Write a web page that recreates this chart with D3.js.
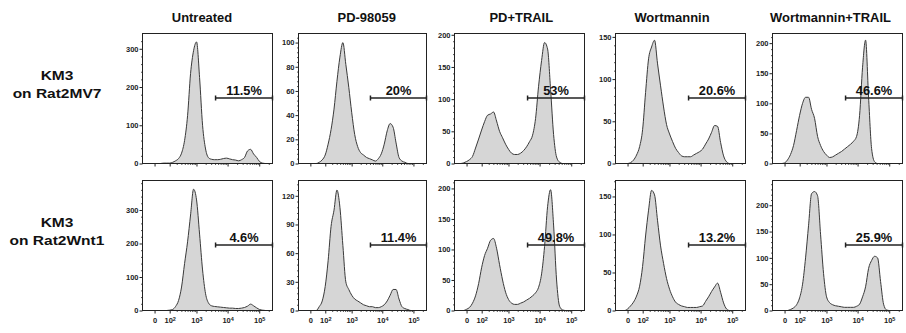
<!DOCTYPE html>
<html>
<head>
<meta charset="utf-8">
<script src="https://cdn.jsdelivr.net/npm/d3@7"></script>
<style>
  body { margin: 0; background: #fff; }
  svg { display: block; font-family: "Liberation Sans", Arial, sans-serif; }
</style>
</head>
<body>
<script>
const treatments = ["Untreated", "PD-98059", "PD+TRAIL", "Wortmannin", "Wortmannin+TRAIL"];
const cellLines = [["KM3", "on Rat2MV7"], ["KM3", "on Rat2Wnt1"]];

// histogram bin centres (fluorescence, biexponential display)
const channels = [-70, -46, -27, -12, 0, 12, 27, 46, 70, 99, 135, 180, 236, 305, 392, 500, 633, 800,
  1006, 1264, 1584, 1981, 2476, 3091, 3856, 4807, 5990, 7460, 9290, 11565, 14390, 17905, 22285,
  27720, 34460, 42900, 53350, 66300, 82500, 102500, 127550, 158650, 197200, 245400];

// cell counts per bin, KM3 on Rat2MV7
const mv7Untreated = [0, 0, 0, 0, 0, 0, 0, 1, 1, 1, 3, 7, 13, 27, 60, 125, 235, 295, 318, 225,
  100, 38, 15, 11, 10, 10, 11, 13, 14, 12, 10, 9, 7, 10, 16, 33, 37, 25, 16, 5, 1, 0, 0, 0];
const mv7Pd = [0, 0, 0, 0, 0, 0, 0, 1, 3, 7, 16, 28, 45, 68, 88, 100, 82, 63, 42, 24,
  14, 9, 7, 5, 4, 3, 2, 4, 8, 16, 27, 33, 30, 17, 5, 2, 1, 0, 0, 0, 0, 0, 0, 0];
const mv7PdTrail = [0, 0, 0, 1, 3, 6, 11, 24, 38, 52, 65, 75, 77, 80, 66, 50, 40, 30, 22, 16,
  14, 14, 16, 20, 26, 34, 44, 70, 120, 160, 188, 178, 115, 45, 10, 2, 0, 0, 0, 0, 0, 0, 0, 0];
const mv7Wort = [0, 0, 0, 0, 0, 1, 4, 10, 20, 40, 84, 124, 138, 146, 118, 92, 67, 46, 35, 26,
  18, 13, 9, 8, 8, 8, 10, 12, 14, 17, 23, 29, 37, 45, 44, 25, 9, 2, 0, 0, 0, 0, 0, 0];
const mv7WortTrail = [0, 0, 0, 0, 1, 6, 15, 30, 55, 80, 100, 110, 110, 90, 75, 45, 30, 20, 14, 10,
  11, 14, 17, 20, 24, 28, 32, 37, 45, 80, 160, 205, 110, 25, 3, 0, 0, 0, 0, 0, 0, 0, 0, 0];

// cell counts per bin, KM3 on Rat2Wnt1
const wnt1Untreated = [0, 0, 0, 0, 0, 0, 0, 0, 0, 1, 3, 12, 30, 70, 140, 205, 285, 362, 330, 228,
  121, 50, 22, 14, 12, 11, 10, 9, 8, 7, 7, 6, 6, 7, 9, 13, 19, 14, 8, 3, 1, 0, 0, 0];
const wnt1Pd = [0, 0, 0, 0, 0, 0, 0, 4, 10, 25, 52, 88, 105, 126, 108, 68, 30, 22, 16, 12,
  10, 8, 6, 5, 4, 4, 3, 3, 4, 6, 10, 16, 22, 22, 12, 4, 2, 1, 0, 0, 0, 0, 0, 0];
const wnt1PdTrail = [0, 0, 0, 0, 2, 5, 12, 24, 44, 70, 90, 102, 115, 118, 102, 75, 50, 30, 18, 12,
  10, 10, 12, 14, 17, 20, 24, 29, 38, 60, 105, 170, 198, 140, 50, 7, 1, 0, 0, 0, 0, 0, 0, 0];
const wnt1Wort = [0, 0, 0, 0, 2, 6, 11, 19, 32, 58, 98, 132, 158, 152, 118, 85, 62, 42, 28, 18,
  11, 8, 6, 5, 4, 4, 4, 4, 5, 6, 12, 18, 25, 31, 36, 24, 10, 2, 0, 0, 0, 0, 0, 0];
const wnt1WortTrail = [0, 0, 0, 0, 0, 0, 2, 5, 11, 24, 50, 100, 162, 222, 226, 218, 145, 70, 26, 15,
  11, 9, 8, 7, 6, 6, 6, 6, 8, 12, 26, 45, 80, 95, 103, 100, 55, 12, 1, 0, 0, 0, 0, 0];

const counts = [
  [mv7Untreated, mv7Pd, mv7PdTrail, mv7Wort, mv7WortTrail],
  [wnt1Untreated, wnt1Pd, wnt1PdTrail, wnt1Wort, wnt1WortTrail]
];

// y axis top and tick step of each panel
const yMax = [[340, 107.5, 202, 154, 216], [388, 136, 213, 171, 247]];
const yStep = [[100, 20, 50, 50, 50], [100, 30, 50, 50, 50]];

// gated fraction (gate starts at 4150 and runs to the top of the scale)
const gateFrom = 4150;
const gatePct = [["11.5%", "20%", "53%", "20.6%", "46.6%"], ["4.6%", "11.4%", "49.8%", "13.2%", "25.9%"]];

const xMajor = [0, 100, 1000, 10000, 100000];
const xMinor = [200, 300, 400, 500, 600, 700, 800, 900, 2000, 3000, 4000, 5000, 6000, 7000, 8000, 9000,
  20000, 30000, 40000, 50000, 60000, 70000, 80000, 90000, 200000];

// layout
const W = 906, H = 333;
const colLeft = [142.5, 298.5, 454.5, 615.5, 772.5];
const colWidth = [130, 128, 130, 130, 130];
const rowTop = [33.5, 180.5];
const plotH = 130;
const titleX = [202, 366.7, 521.3, 672, 830.5];

const svg = d3.select("body").append("svg")
    .attr("width", W)
    .attr("height", H);

function stretch(sel, x, y, sx) {
    return sel.attr("transform", `translate(${x},${y}) scale(${sx},1)`);
}

// column titles
treatments.forEach((t, c) => {
    stretch(svg.append("text"), titleX[c], 21.5, 1.08)
        .attr("text-anchor", "middle")
        .attr("font-size", 12)
        .attr("font-weight", "bold")
        .attr("fill", "#111")
        .text(t);
});

// row labels
cellLines.forEach((lines, r) => {
    const mid = rowTop[r] + plotH / 2;
    lines.forEach((s, k) => {
        stretch(svg.append("text"), 57, mid - 18.5 + k * 18, 1.15)
            .attr("text-anchor", "middle")
            .attr("font-size", 13.5)
            .attr("font-weight", "bold")
            .attr("fill", "#111")
            .text(s);
    });
});

counts.forEach((row, r) => {
    row.forEach((data, c) => {
        const w = colWidth[c];
        const g = svg.append("g")
            .attr("transform", `translate(${colLeft[c]},${rowTop[r]})`);

        const x = d3.scaleSymlog().constant(50)
            .domain([-70, 262144])
            .range([0, w]);
        const y = d3.scaleLinear()
            .domain([0, yMax[r][c]])
            .range([plotH, 0]);

        const area = d3.area()
            .x((d, i) => x(channels[i]))
            .y0(plotH)
            .y1(d => y(d))
            .curve(d3.curveMonotoneX);
        const line = d3.line()
            .x((d, i) => x(channels[i]))
            .y(d => y(d))
            .curve(d3.curveMonotoneX);

        g.append("path")
            .datum(data)
            .attr("d", area)
            .attr("fill", "#d6d6d6");
        g.append("path")
            .datum(data)
            .attr("d", line)
            .attr("fill", "none")
            .attr("stroke", "#3a3a3a")
            .attr("stroke-width", 1);

        // y axis
        const step = yStep[r][c];
        const yAx = g.append("g")
            .call(d3.axisLeft(y)
                .tickValues(d3.range(0, yMax[r][c] + 0.1, step))
                .tickSize(3)
                .tickPadding(1)
                .tickFormat(d3.format("d")));
        yAx.select(".domain").remove();
        yAx.selectAll("text")
            .attr("font-size", 7.5)
            .attr("font-weight", "bold")
            .attr("fill", "#222")
            .attr("font-family", "Liberation Sans, Arial, sans-serif");
        yAx.selectAll("line").attr("stroke", "#222");

        const yMinor = g.append("g")
            .call(d3.axisLeft(y)
                .tickValues(d3.range(0, yMax[r][c], step / 5).filter((v, i) => i % 5 !== 0))
                .tickSize(1.5)
                .tickFormat(""));
        yMinor.select(".domain").remove();
        yMinor.selectAll("line").attr("stroke", "#555");

        // x axis
        const xAx = g.append("g")
            .attr("transform", `translate(0,${plotH})`)
            .call(d3.axisBottom(x)
                .tickValues(xMajor)
                .tickSize(3)
                .tickPadding(3)
                .tickFormat(""));
        xAx.select(".domain").remove();
        xAx.selectAll("line").attr("stroke", "#222");
        if (r === 1) {
            xAx.selectAll(".tick text").each(function(d) {
                const t = d3.select(this)
                    .attr("font-size", 7.5)
                    .attr("font-weight", "bold")
                    .attr("fill", "#222")
                    .attr("font-family", "Liberation Sans, Arial, sans-serif")
                    .attr("dy", "0.85em");
                if (d === 0) {
                    t.text("0");
                } else {
                    t.append("tspan").text("10");
                    t.append("tspan")
                        .attr("font-size", 5.5)
                        .attr("dy", "-0.4em")
                        .text(Math.round(Math.log10(d)));
                }
            });
        }
        const xMin = g.append("g")
            .attr("transform", `translate(0,${plotH})`)
            .call(d3.axisBottom(x)
                .tickValues(xMinor)
                .tickSize(1.5)
                .tickFormat(""));
        xMin.select(".domain").remove();
        xMin.selectAll("line").attr("stroke", "#555");

        // frame
        g.append("rect")
            .attr("width", w)
            .attr("height", plotH)
            .attr("fill", "none")
            .attr("stroke", "#222")
            .attr("stroke-width", 1);

        // gate
        const gy = Math.round(plotH * 0.49) + 0.5;
        const gx0 = x(gateFrom), gx1 = w;
        const gate = g.append("g").attr("stroke", "#222").attr("stroke-width", 1.5);
        gate.append("line").attr("x1", gx0).attr("x2", gx1).attr("y1", gy).attr("y2", gy);
        gate.append("line").attr("x1", gx0).attr("x2", gx0).attr("y1", gy - 2.5).attr("y2", gy + 2.5);
        gate.append("line").attr("x1", gx1).attr("x2", gx1).attr("y1", gy - 2.5).attr("y2", gy + 2.5);

        stretch(g.append("text"), (gx0 + gx1) / 2, gy - 3.5, 1.07)
            .attr("text-anchor", "middle")
            .attr("font-size", 12)
            .attr("font-weight", "bold")
            .attr("fill", "#111")
            .text(gatePct[r][c]);
    });
});
</script>
</body>
</html>
